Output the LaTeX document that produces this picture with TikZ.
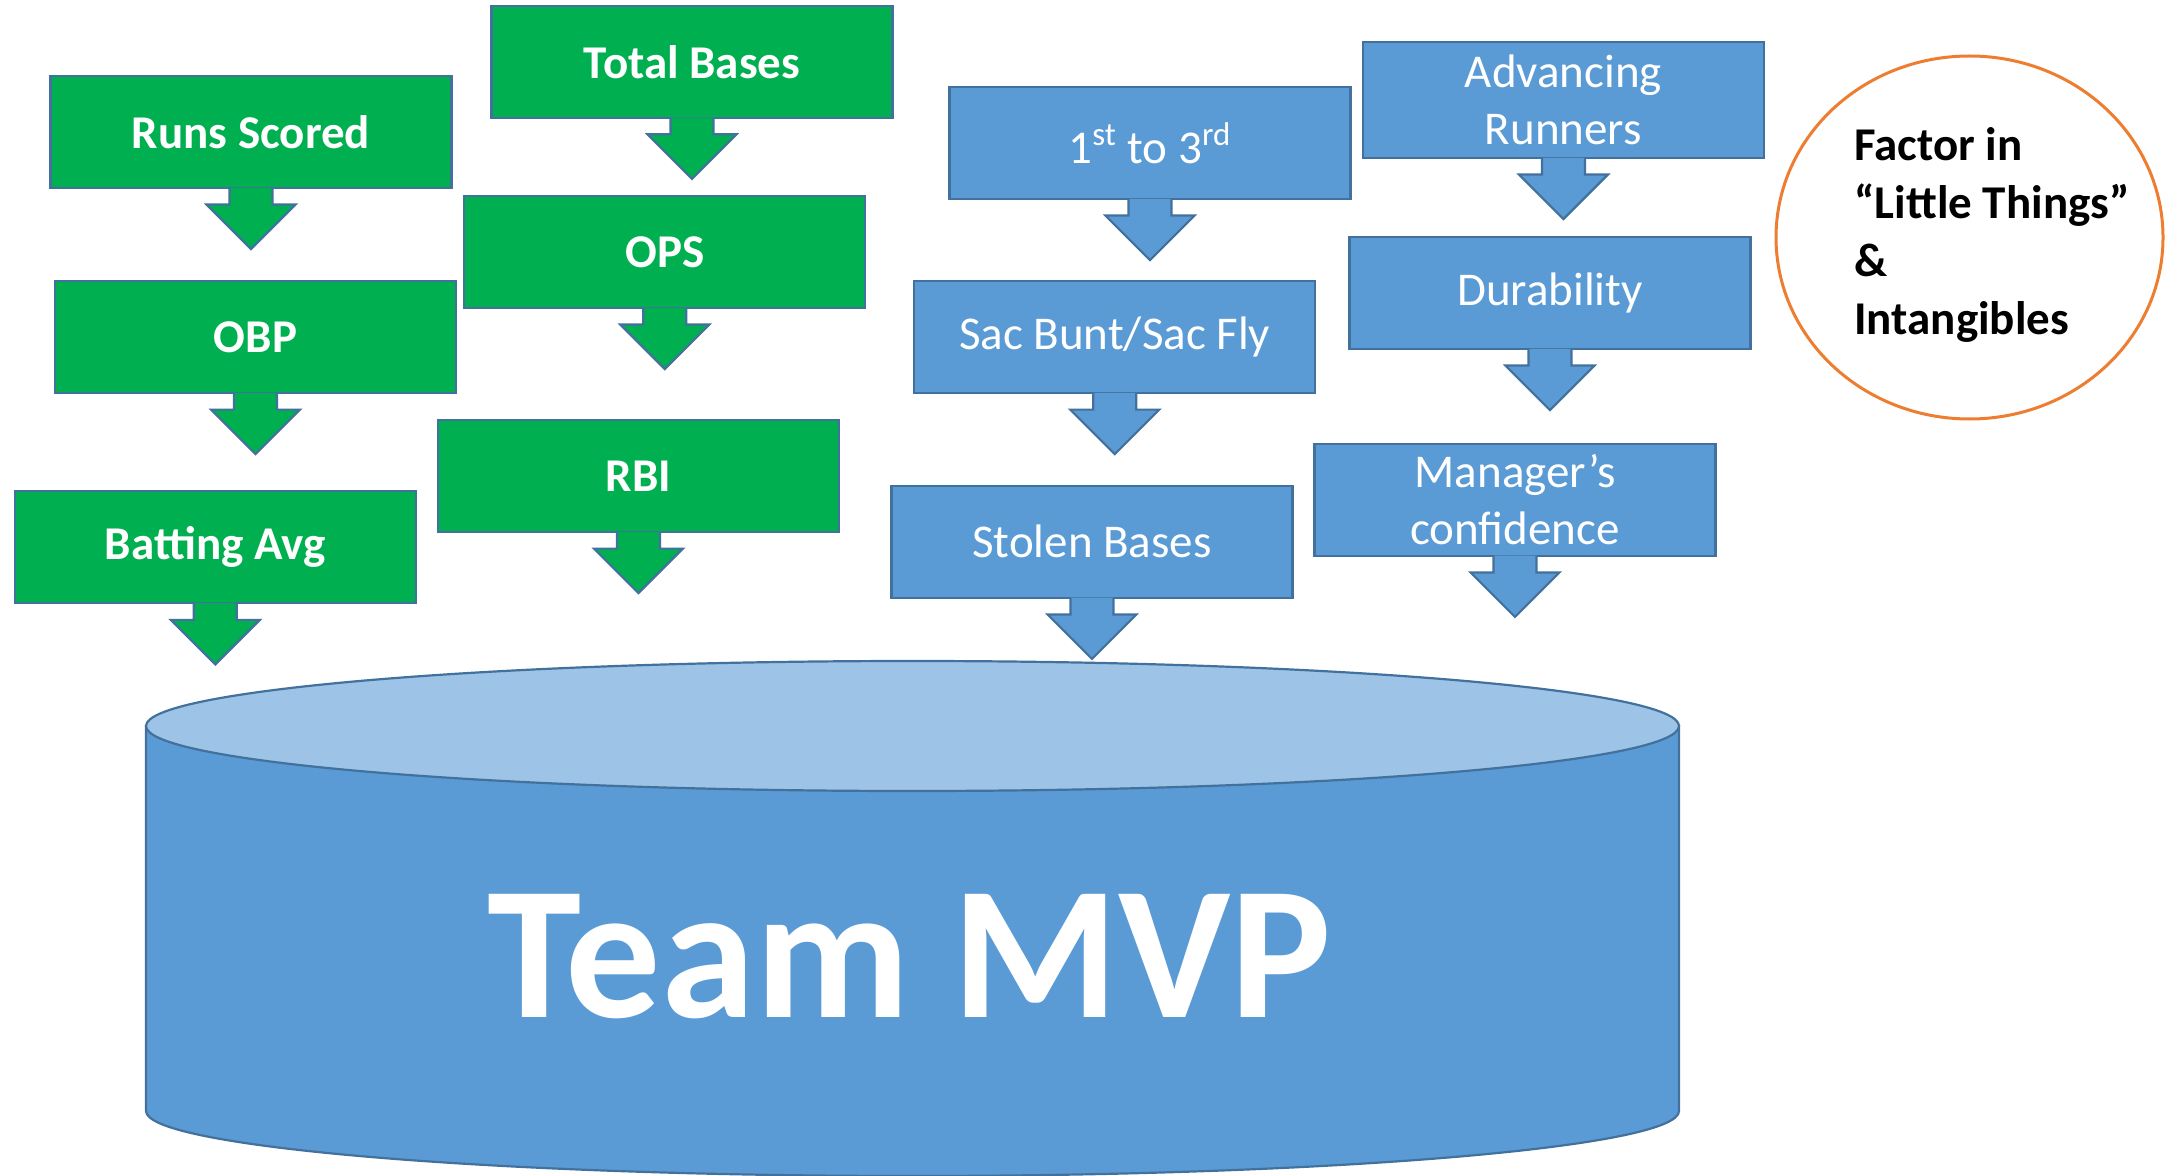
\documentclass[tikz,border=0pt]{standalone}
\usepackage{fontspec}
\setmainfont{Carlito}
\usetikzlibrary{calc,shapes.geometric}
\definecolor{grn}{HTML}{00B050}
\definecolor{blu}{HTML}{5B9BD5}
\definecolor{lblu}{HTML}{9DC3E6}
\definecolor{edgec}{HTML}{41719C}
\definecolor{orng}{HTML}{ED7D31}
\newcommand\blockarrow[2]{%
  \filldraw[fill=#2, draw=edgec, line width=1.1pt, line join=miter]
    ($(#1.south)+(-21.5,-1.2)$) -- ($(#1.south)+(-21.5,15.5)$) -- ($(#1.south)+(-44.5,15.5)$)
    -- ($(#1.south)+(0,60)$) -- ($(#1.south)+(44.5,15.5)$) -- ($(#1.south)+(21.5,15.5)$)
    -- ($(#1.south)+(21.5,-1.2)$);}
\tikzset{
  statbox/.style={draw=edgec, line width=1.1pt, minimum width=200.5pt, minimum height=56pt,
    inner sep=0pt, text=white, align=center, font=\fontsize{23.5}{28.5}\selectfont},
  gbox/.style={statbox, fill=grn, font=\fontsize{23.5}{28.5}\selectfont\bfseries},
  bbox/.style={statbox, fill=blu},
}
\begin{document}
\begin{tikzpicture}[x=0.5pt,y=-0.5pt]
\useasboundingbox (0,0) rectangle (2177,1176);
\fill[white] (0,0) rectangle (2177,1176);

% cylinder
\filldraw[fill=blu, draw=edgec, line width=1.1pt] (146,726) -- (146,1111)
  arc[start angle=180, end angle=0, x radius=766.5, y radius=65] -- (1679,726) -- cycle;
\filldraw[fill=lblu, draw=edgec, line width=1.1pt] (912.5,726) ellipse[x radius=766.5, y radius=65];
\node[font=\fontsize{95}{100}\selectfont\bfseries, text=white, anchor=base, inner sep=0pt] (mvp) at (910,1017) {Team MVP};

% green boxes
\node[gbox] (rs) at (251,132) {Runs Scored};
\node[gbox] (tb) at (692,61.75) {Total Bases};
\node[gbox] (ops) at (664.8,252) {OPS};
\node[gbox] (obp) at (255.5,337) {OBP};
\node[gbox] (rbi) at (638.4,476) {RBI};
\node[gbox] (ba) at (215.3,547.3) {Batting Avg};

% blue boxes
\node[bbox] (ft) at (1150,143) {1\textsuperscript{st} to 3\textsuperscript{rd}};
\node[bbox, minimum height=58pt] (ar) at (1563.4,100) {Advancing\\Runners};
\node[bbox] (du) at (1550,293) {Durability};
\node[bbox] (sb) at (1114.7,337) {Sac Bunt/Sac Fly};
\node[bbox] (mc) at (1515,499.8) {Manager’s\\confidence};
\node[bbox] (st) at (1092,541.8) {Stolen Bases};

% block arrows
\blockarrow{rs}{grn}
\blockarrow{tb}{grn}
\blockarrow{ops}{grn}
\blockarrow{obp}{grn}
\blockarrow{rbi}{grn}
\blockarrow{ba}{grn}
\blockarrow{ft}{blu}
\blockarrow{ar}{blu}
\blockarrow{du}{blu}
\blockarrow{sb}{blu}
\blockarrow{mc}{blu}
\blockarrow{st}{blu}

% circle
\node[ellipse, draw=orng, line width=1.5pt, minimum width=193.5pt, minimum height=181.5pt, inner sep=0pt] (circ) at (1969.5,237.5) {};
\node[anchor=west, align=left, font=\fontsize{23.5}{29}\selectfont\bfseries, inner sep=0pt] (txt) at (1854,235)
  {Factor in\\“Little Things”\\\&\\Intangibles};
\end{tikzpicture}
\end{document}
